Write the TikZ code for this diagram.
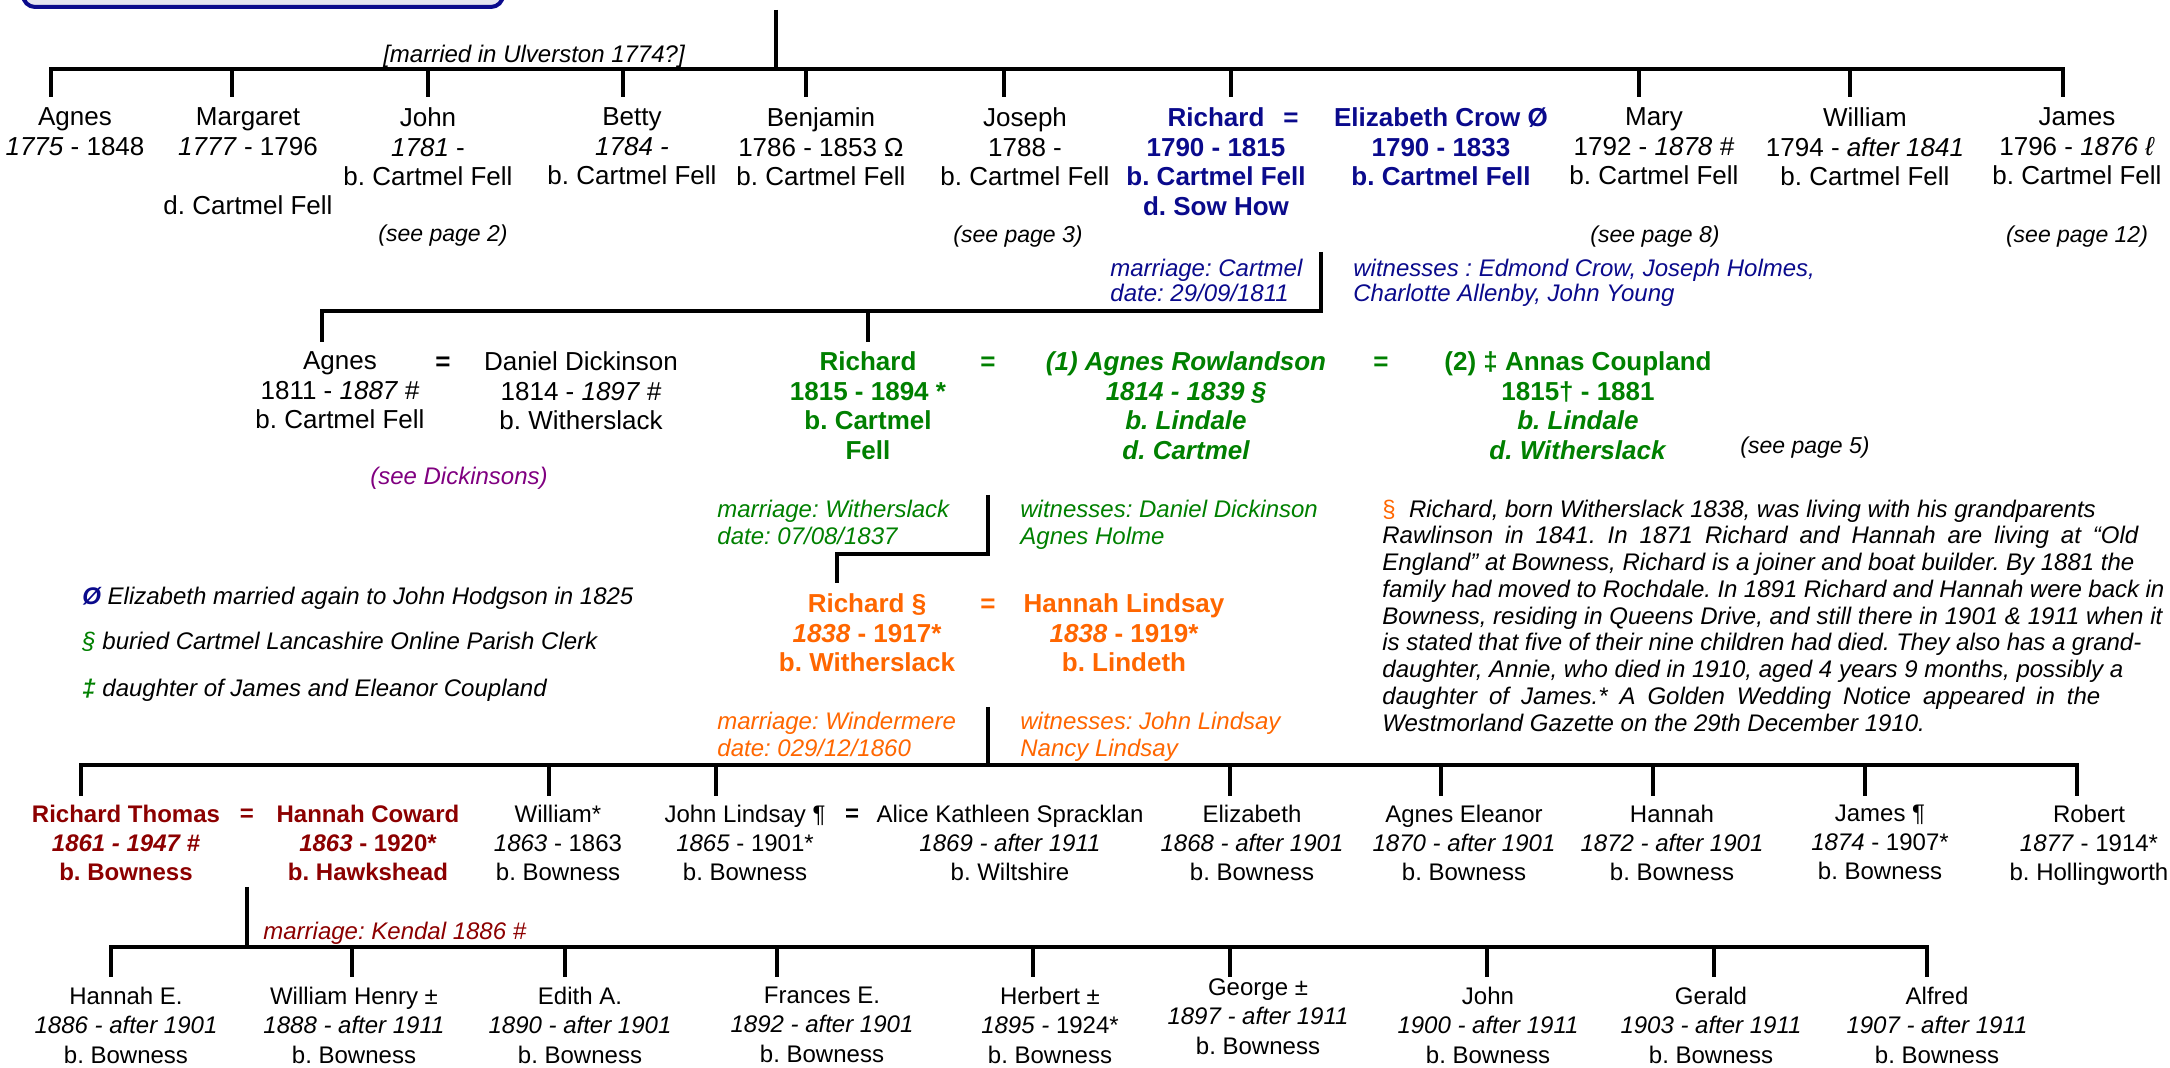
\documentclass[tikz,border=0pt]{standalone}
\usepackage{fontspec}
\setmainfont{Liberation Sans}
\definecolor{cblue}{RGB}{10,10,140}
\definecolor{cgreen}{RGB}{0,128,0}
\definecolor{corange}{RGB}{255,102,0}
\definecolor{cred}{RGB}{140,0,0}
\definecolor{cpurple}{RGB}{128,0,128}
\definecolor{cbox}{RGB}{228,228,240}
\begin{document}
\frenchspacing
\begin{tikzpicture}[x=0.5pt,y=-0.5pt,
 famline/.style={line width=1.6pt},
 pers/.style={inner sep=0pt, anchor=north, align=center, font=\fontsize{13}{14.75}\selectfont},
 pers4/.style={inner sep=0pt, anchor=north, align=center, font=\fontsize{12}{14.5}\selectfont},
 pers5/.style={inner sep=0pt, anchor=north, align=center, font=\fontsize{12}{14.75}\selectfont},
 eqsign/.style={inner sep=0pt, anchor=base, font=\fontsize{13}{14.75}\selectfont\bfseries},
 eqsign4/.style={inner sep=0pt, anchor=base, font=\fontsize{12}{14.5}\selectfont\bfseries},
 mnote/.style={inner sep=0pt, anchor=north west, align=left, font=\fontsize{12}{13.5}\selectfont\itshape},
 seepage/.style={inner sep=0pt, anchor=center, font=\fontsize{11.5}{13}\selectfont\itshape},
 legline/.style={inner sep=0pt, anchor=west, font=\fontsize{12}{14}\selectfont\itshape},
]
\useasboundingbox (0,0) rectangle (2170,1068);

% title box (cut off at top)
\node[draw=cblue, fill=cbox, line width=2pt, rounded corners=6pt, minimum width=240pt, minimum height=40pt, inner sep=0pt, anchor=south west] (title) at (21,9) {};

% ---------- generation 1 ----------
\coordinate (top0) at (776,10);
\coordinate (bus1) at (776,69);
\coordinate (d1a) at (51,97);
\coordinate (d1b) at (232,97);
\coordinate (d1c) at (428,97);
\coordinate (d1d) at (623,97);
\coordinate (d1e) at (806,97);
\coordinate (d1f) at (1004,97);
\coordinate (d1g) at (1231,97);
\coordinate (d1h) at (1639,97);
\coordinate (d1i) at (1850,97);
\coordinate (d1j) at (2063,97);
\draw[famline] (top0) -- (bus1);
\draw[famline] (d1a) -- (d1a |- bus1) -- (d1j |- bus1) -- (d1j);
\foreach \c in {d1b,d1c,d1d,d1e,d1f,d1g,d1h,d1i} \draw[famline] (\c |- bus1) -- (\c);

\node[inner sep=0pt, font=\fontsize{12}{14}\selectfont\itshape] (ulv) at (534,56) {[married in Ulverston 1774?]};

\node[pers] (agnes1) at (75,107.7) {Agnes\\\textit{1775} - 1848};
\node[pers] (marg) at (248,107.7) {Margaret\\\textit{1777} - 1796\\[14.75pt]d. Cartmel Fell};
\node[pers] (john1) at (428,107.7) {John\\\textit{1781} -\\b. Cartmel Fell};
\node[pers] (betty) at (632,107.7) {Betty\\\textit{1784 -}\\b. Cartmel Fell};
\node[pers] (benj) at (821,107.7) {Benjamin\\1786 - 1853 Ω\\b. Cartmel Fell};
\node[pers] (jos) at (1025,107.7) {Joseph\\1788 -\\b. Cartmel Fell};
\node[pers, text=cblue, font=\fontsize{13}{14.75}\selectfont\bfseries] (rich1) at (1216,107.7) {Richard\\1790 - 1815\\b. Cartmel Fell\\d. Sow How};
\node[eqsign, text=cblue] (eq1) at (1291,126.3) {=};
\node[pers, text=cblue, font=\fontsize{13}{14.75}\selectfont\bfseries] (eliz) at (1441,107.7) {Elizabeth Crow Ø\\1790 - 1833\\b. Cartmel Fell};
\node[pers] (mary) at (1654,107.7) {Mary\\1792 - \textit{1878 \#}\\b. Cartmel Fell};
\node[pers] (will1) at (1865,107.7) {William\\1794 - \textit{after 1841}\\b. Cartmel Fell};
\node[pers] (james1) at (2077,107.7) {James\\1796 - \textit{1876 ℓ}\\b. Cartmel Fell};

\node[seepage] (sp2) at (443,236) {(see page 2)};
\node[seepage] (sp3) at (1018,237) {(see page 3)};
\node[seepage] (sp8) at (1655,237) {(see page 8)};
\node[seepage] (sp12) at (2077,237) {(see page 12)};

% marriage 1
\node[mnote, text=cblue, font=\fontsize{12}{12.5}\selectfont\itshape] (mar1) at (1110,258.4) {marriage: Cartmel\\date: 29/09/1811};
\node[mnote, text=cblue, font=\fontsize{12}{12.5}\selectfont\itshape] (wit1) at (1353,258.4) {witnesses : Edmond Crow, Joseph Holmes,\\Charlotte Allenby, John Young};

\coordinate (m1) at (1321,252);
\coordinate (bus2) at (1321,311);
\coordinate (d2a) at (322,342);
\coordinate (d2b) at (868,342);
\draw[famline] (m1) -- (bus2) -- (d2a |- bus2) -- (d2a);
\draw[famline] (d2b |- bus2) -- (d2b);

% ---------- generation 2 ----------
\node[pers] (agnes2) at (340,351.7) {Agnes\\1811 - \textit{1887 \#}\\b. Cartmel Fell};
\node[eqsign] (eq2) at (443,370.3) {=};
\node[pers] (dan) at (581,351.7) {Daniel Dickinson\\1814 - \textit{1897 \#}\\b. Witherslack};
\node[seepage, text=cpurple, font=\fontsize{12}{14}\selectfont\itshape] (sdick) at (459,478) {(see Dickinsons)};

\node[pers, text=cgreen, font=\fontsize{13}{14.75}\selectfont\bfseries] (rich2) at (868,351.7) {Richard\\1815 - 1894 *\\b. Cartmel\\Fell};
\node[eqsign, text=cgreen] (eq3) at (988,370.3) {=};
\node[pers, text=cgreen, font=\fontsize{13}{14.75}\selectfont\bfseries\itshape] (agrow) at (1186,351.7) {(1) Agnes Rowlandson\\1814 - 1839 §\\b. Lindale\\d. Cartmel};
\node[eqsign, text=cgreen] (eq4) at (1381,370.3) {=};
\node[pers, text=cgreen, font=\fontsize{13}{14.75}\selectfont\bfseries] (annas) at (1578,351.7) {(2) ‡ Annas Coupland\\1815† - 1881\\\textit{b. Lindale}\\\textit{d. Witherslack}};
\node[seepage] (sp5) at (1805,448) {(see page 5)};

% marriage 2
\node[mnote, text=cgreen] (mar2) at (717,499.4) {marriage: Witherslack\\date: 07/08/1837};
\node[mnote, text=cgreen] (wit2) at (1020,499.4) {witnesses: Daniel Dickinson\\Agnes Holme};
\coordinate (m2) at (988,495);
\coordinate (j2) at (988,554);
\coordinate (d3) at (837,583);
\draw[famline] (m2) -- (j2) -- (d3 |- j2) -- (d3);

% paragraph
\node[inner sep=0pt, anchor=north west, align=left, font=\fontsize{12}{13.375}\selectfont\itshape] (para) at (1382,499.4) {%
\textcolor{corange}{\upshape §}\ \ Richard, born Witherslack 1838, was living with his grandparents\\
\makebox[378pt][s]{Rawlinson in 1841. In 1871 Richard and Hannah are living at “Old}\\
\makebox[376pt][s]{England” at Bowness, Richard is a joiner and boat builder. By 1881 the}\\
\makebox[391pt][s]{family had moved to Rochdale. In 1891 Richard and Hannah were back in}\\
\makebox[390pt][s]{Bowness, residing in Queens Drive, and still there in 1901 \& 1911 when it}\\
\makebox[379.5pt][s]{is stated that five of their nine children had died. They also has a grand-}\\
\makebox[370.5pt][s]{daughter, Annie, who died in 1910, aged 4 years 9 months, possibly a}\\
\makebox[359pt][s]{daughter of James.* A Golden Wedding Notice appeared in the}\\
Westmorland Gazette on the 29th December 1910.};

% legend
\node[legline] (leg1) at (82,598) {\textcolor{cblue}{\bfseries Ø} Elizabeth married again to John Hodgson in 1825};
\node[legline] (leg2) at (82,642) {\textcolor{cgreen}{§} buried Cartmel Lancashire Online Parish Clerk};
\node[legline] (leg3) at (82,690) {\textcolor{cgreen}{\bfseries ‡} daughter of James and Eleanor Coupland};

% ---------- generation 3 ----------
\node[pers, text=corange, font=\fontsize{13}{14.75}\selectfont\bfseries] (rich3) at (867,593.7) {Richard §\\\textit{1838} - 1917*\\b. Witherslack};
\node[eqsign, text=corange] (eq5) at (988,612.3) {=};
\node[pers, text=corange, font=\fontsize{13}{14.75}\selectfont\bfseries] (hlind) at (1124,593.7) {Hannah Lindsay\\\textit{1838} - 1919*\\b. Lindeth};

\node[mnote, text=corange] (mar3) at (717,711.4) {marriage: Windermere\\date: 029/12/1860};
\node[mnote, text=corange] (wit3) at (1020,711.4) {witnesses: John Lindsay\\Nancy Lindsay};

\coordinate (m3) at (988,707);
\coordinate (bus4) at (988,765);
\coordinate (d4a) at (81,796);
\coordinate (d4b) at (549,796);
\coordinate (d4c) at (716,796);
\coordinate (d4d) at (1230,796);
\coordinate (d4e) at (1441,796);
\coordinate (d4f) at (1653,796);
\coordinate (d4g) at (1865,796);
\coordinate (d4h) at (2077,796);
\draw[famline] (m3) -- (bus4);
\draw[famline] (d4a) -- (d4a |- bus4) -- (d4h |- bus4) -- (d4h);
\foreach \c in {d4b,d4c,d4d,d4e,d4f,d4g} \draw[famline] (\c |- bus4) -- (\c);

% ---------- generation 4 ----------
\node[pers4, text=cred, font=\fontsize{12}{14.5}\selectfont\bfseries] (rt) at (126,804.4) {Richard Thomas\\\textit{1861 - 1947 \#}\\b. Bowness};
\node[eqsign4, text=cred] (eq6) at (247,821.6) {=};
\node[pers4, text=cred, font=\fontsize{12}{14.5}\selectfont\bfseries] (hc) at (368,804.4) {Hannah Coward\\\textit{1863} - 1920*\\b. Hawkshead};
\node[pers4] (wm) at (558,804.4) {William*\\\textit{1863} - 1863\\b. Bowness};
\node[pers4] (jl) at (745,804.4) {John Lindsay ¶\\\textit{1865} - 1901*\\b. Bowness};
\node[eqsign4] (eq7) at (852,821.6) {=};
\node[pers4] (ak) at (1010,804.4) {Alice Kathleen Spracklan\\\textit{1869 - after 1911}\\b. Wiltshire};
\node[pers4] (ez) at (1252,804.4) {Elizabeth\\\textit{1868 - after 1901}\\b. Bowness};
\node[pers4] (ae) at (1464,804.4) {Agnes Eleanor\\\textit{1870 - after 1901}\\b. Bowness};
\node[pers4] (hn) at (1672,804.4) {Hannah\\\textit{1872 - after 1901}\\b. Bowness};
\node[pers4] (js) at (1880,804.4) {James ¶\\\textit{1874} - 1907*\\b. Bowness};
\node[pers4] (rb) at (2089,804.4) {Robert\\\textit{1877} - 1914*\\b. Hollingworth};

% marriage Kendal
\node[inner sep=0pt, anchor=west, text=cred, font=\fontsize{12}{14}\selectfont\itshape] (mar4) at (263,933) {marriage: Kendal 1886 \#};
\coordinate (m4) at (247,887);
\coordinate (bus5) at (247,947);
\coordinate (d5a) at (111,977);
\coordinate (d5b) at (352,977);
\coordinate (d5c) at (565,977);
\coordinate (d5d) at (777,977);
\coordinate (d5e) at (1033,977);
\coordinate (d5f) at (1230,977);
\coordinate (d5g) at (1487,977);
\coordinate (d5h) at (1714,977);
\coordinate (d5i) at (1927,977);
\draw[famline] (m4) -- (bus5);
\draw[famline] (d5a) -- (d5a |- bus5) -- (d5i |- bus5) -- (d5i);
\foreach \c in {d5b,d5c,d5d,d5e,d5f,d5g,d5h} \draw[famline] (\c |- bus5) -- (\c);

% ---------- generation 5 ----------
\node[pers5] (he) at (126,986.4) {Hannah E.\\\textit{1886 - after 1901}\\b. Bowness};
\node[pers5] (wh) at (354,986.4) {William Henry ±\\\textit{1888 - after 1911}\\b. Bowness};
\node[pers5] (ed) at (580,986.4) {Edith A.\\\textit{1890 - after 1901}\\b. Bowness};
\node[pers5] (fr) at (822,986.4) {Frances E.\\\textit{1892 - after 1901}\\b. Bowness};
\node[pers5] (hb) at (1050,986.4) {Herbert ±\\\textit{1895 -} 1924*\\b. Bowness};
\node[pers5] (geo) at (1258,978) {George ±\\\textit{1897 - after 1911}\\b. Bowness};
\node[pers5] (jn) at (1488,986.4) {John\\\textit{1900 - after 1911}\\b. Bowness};
\node[pers5] (ger) at (1711,986.4) {Gerald\\\textit{1903 - after 1911}\\b. Bowness};
\node[pers5] (alf) at (1937,986.4) {Alfred\\\textit{1907 - after 1911}\\b. Bowness};
\end{tikzpicture}
\end{document}
